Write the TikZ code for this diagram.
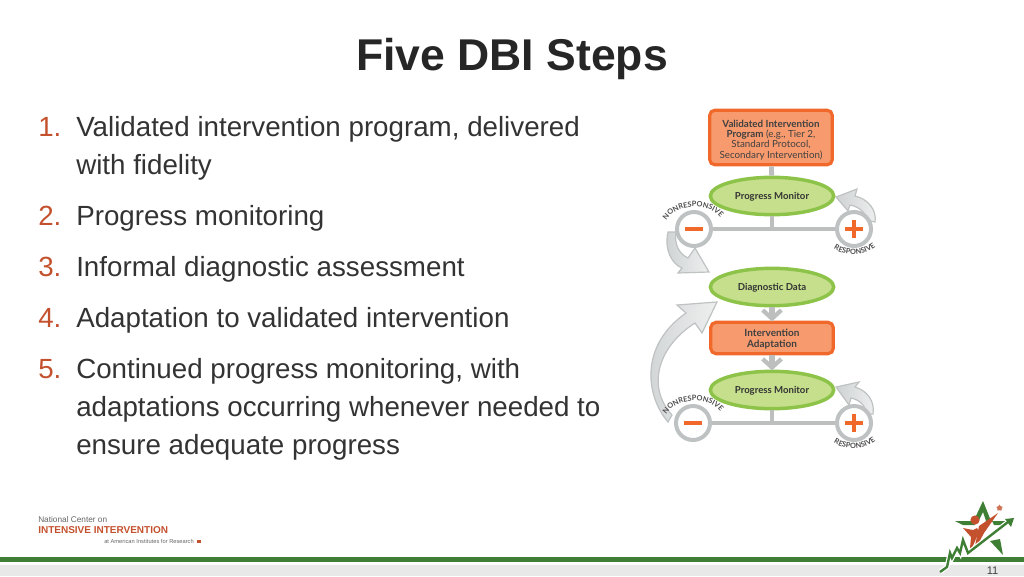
\documentclass[tikz,border=0pt]{standalone}
\usepackage{fontspec}
\setmainfont{Liberation Sans}
\newfontfamily\flowfont{Lato}
\usetikzlibrary{shapes.geometric,decorations.text}
\definecolor{numred}{HTML}{C4512D}
\definecolor{bodygray}{HTML}{333333}
\definecolor{boxfill}{HTML}{F79B6E}
\definecolor{boxline}{HTML}{F0692A}
\definecolor{ovalfill}{HTML}{C6DF8C}
\definecolor{ovalline}{HTML}{8CC348}
\definecolor{linkgray}{HTML}{BDBFBF}
\definecolor{curvefill}{HTML}{EEF0F0}
\definecolor{curvedark}{HTML}{CFD2D2}
\definecolor{curveline}{HTML}{BFC2C2}
\definecolor{barcolor}{HTML}{3F7F35}
\definecolor{footgray}{HTML}{E8E8E8}
\tikzset{
  listnum/.style={anchor=base west,text=numred,font=\fontsize{20.8}{25}\selectfont,inner sep=0pt},
  listtext/.style={anchor=base west,text=bodygray,font=\fontsize{20.8}{25}\selectfont,inner sep=0pt},
  orangebox/.style={draw=boxline,fill=boxfill,line width=2.4pt,rounded corners=4pt,minimum width=92pt,align=center,text=black!75,inner sep=0pt,font=\flowfont\fontsize{7.35}{7.8}\selectfont},
  greenoval/.style={ellipse,draw=ovalline,fill=ovalfill,line width=2.6pt,minimum width=92.5pt,minimum height=28pt,inner sep=0pt,text height=7pt,text depth=1.5pt,text=black!80,font=\flowfont\bfseries\fontsize{7.2}{8}\selectfont},
  signdisc/.style={circle,draw=curveline,fill=white,line width=3pt,minimum size=25.5pt,inner sep=0pt},
  linkline/.style={draw=linkgray,line width=3.6pt},
  blockarrow/.style={draw=curveline,left color=curvedark,right color=curvefill,line width=0.9pt,line join=miter},
  arctext/.style={decorate,decoration={text along path,text align=center,text color=black!70,
    text={|\flowfont\bfseries\fontsize{5.5}{6}\selectfont|#1}}}
}
\begin{document}
\begin{tikzpicture}[x=0.75pt,y=-0.75pt]
\useasboundingbox (0,0) rectangle (1024,576);
% title
\node[font=\bfseries\fontsize{33.4}{36}\selectfont,text=black!85,anchor=base] (title) at (512,70) {Five DBI Steps};

% list
\foreach \nm/\y in {1/136,2/225,3/276,4/327,5/378}
  \node[listnum] (num\nm) at (38,\y) {\nm.};
\foreach \ln/\y/\txt in {a/136/{Validated intervention program, delivered},
    b/174/{with fidelity},
    c/225/{Progress monitoring},
    d/276/{Informal diagnostic assessment},
    e/327/{Adaptation to validated intervention},
    f/378/{Continued progress monitoring, with},
    g/416/{adaptations occurring whenever needed to},
    h/454/{ensure adequate progress}}
  \node[listtext] (line\ln) at (76,\y) {\txt};

% block arrows go under the boxes
\draw[blockarrow] (875,222) .. controls (877,210) and (868,199) .. (855,196) -- (857,189) -- (836,197)
  -- (848,211) -- (850,205) .. controls (860,207) and (866,213) .. (866,220) -- cycle;
\draw[blockarrow] (668,232) .. controls (664,250) and (672,264) .. (682,268) -- (678,273) -- (709,272)
  -- (695,248) -- (688,258) .. controls (679,254) and (674,244) .. (676,232) -- cycle;
\draw[blockarrow] (668,422) .. controls (645,395) and (640,345) .. (686,313) -- (677,305) -- (717,302)
  -- (702,333) -- (695,323) .. controls (660,345) and (645,385) .. (672,415) -- cycle;
\draw[blockarrow] (873,414) .. controls (875,402) and (868,391) .. (855,387) -- (859,382) -- (836,387)
  -- (849,405) -- (851,398) .. controls (860,400) and (866,406) .. (866,414) -- cycle;

% nodes
\node[signdisc] (minus1) at (694,229) {};
\node[signdisc] (plus1) at (854,229) {};
\node[signdisc] (minus2) at (693,423) {};
\node[signdisc] (plus2) at (854,423) {};
\node[orangebox,minimum height=41pt] (program) at (771,137.5) {\rule{0pt}{9pt}{\bfseries Validated Intervention}\\{\bfseries Program} (e.g., Tier 2,\\Standard Protocol,\\Secondary Intervention)};
\node[greenoval] (monitor1) at (772,196) {Progress Monitor};
\node[greenoval] (diagnostic) at (772,287) {Diagnostic Data};
\node[orangebox,minimum height=23.5pt,font=\flowfont\bfseries\fontsize{7.5}{7.8}\selectfont] (adapt) at (772,338) {\rule{0pt}{7pt}Intervention\\Adaptation};
\node[greenoval] (monitor2) at (772,390) {Progress Monitor};
\coordinate (fork1) at (772,229);
\coordinate (fork2) at (772,423);

% connectors
\draw[linkline] (program) -- (monitor1);
\draw[linkline] (monitor1) -- (fork1);
\draw[linkline] (minus1) -- (plus1);
\draw[linkline] (monitor2) -- (fork2);
\draw[linkline] (minus2) -- (plus2);

% small arrows
\foreach \from/\to in {diagnostic/adapt,adapt/monitor2} {
  \draw[linkgray,line width=5pt] (\from.south) -- ([yshift=3pt]\to.north);
  \draw[linkgray,line width=3.2pt] ([xshift=-7pt,yshift=8pt]\to.north) -- ([yshift=1.6pt]\to.north) -- ([xshift=7pt,yshift=8pt]\to.north);
}

% signs
\foreach \who in {minus1,minus2} {
  \draw[boxline,line width=3.4pt] ([xshift=-7pt]\who.center) -- ([xshift=7pt]\who.center);
}
\foreach \who in {plus1,plus2} {
  \draw[boxline,line width=3.4pt] ([xshift=-7pt]\who.center) -- ([xshift=7pt]\who.center);
  \draw[boxline,line width=3.4pt] ([yshift=-7pt]\who.center) -- ([yshift=7pt]\who.center);
}

% curved words
\path[arctext=NONRESPONSIVE] (663,227) .. controls (671,201) and (715,200) .. (724,224);
\path[arctext=RESPONSIVE] (829,245) .. controls (842,258) and (866,258) .. (880,243);
\path[arctext=NONRESPONSIVE] (663,421) .. controls (671,395) and (715,394) .. (724,418);
\path[arctext=RESPONSIVE] (829,439) .. controls (842,452) and (866,452) .. (880,437);

% footer
\fill[footgray] (0,565) rectangle (1024,576);
\fill[barcolor] (0,557) rectangle (1024,562);

% left logo
\node[anchor=base west,inner sep=0pt,text=black!60,font=\fontsize{6.2}{7}\selectfont] (ncname) at (38,522) {National Center on};
\node[anchor=base west,inner sep=0pt,text=numred,font=\bfseries\fontsize{7.5}{8}\selectfont] (ncbig) at (38,533) {INTENSIVE INTERVENTION};
\node[anchor=base west,inner sep=0pt,text=black!60,font=\fontsize{4.3}{5}\selectfont] (ncair) at (104,543) {at American Institutes for Research};
\fill[numred] (197,539.5) rectangle (201,543);

% right logo
\fill[barcolor] (983,501) -- (991,521) -- (986,521) -- (983,512) -- (979,520) -- (975,518) -- cycle;
\fill[barcolor] (955,521) -- (971,521) -- (975,525) -- (963,525) -- cycle;
\fill[barcolor] (992,521) -- (1008,521) -- (1003,525) -- (994,525) -- cycle;
\fill[barcolor] (990,541) -- (1003,555) -- (1000,539) -- cycle;
\fill[numred] (975,520) circle[radius=4.6];
\fill[numred] (963,528) -- (973,530) -- (977,528) -- (979,532) -- (972,548) -- (970,548) -- (971,537) -- cycle;
\fill[numred] (998,513) -- (984,533) -- (977,546) -- (975,546) -- (979,526) -- cycle;
\node[star,star points=5,fill=numred!80,inner sep=0pt,minimum size=5pt] (tinystar) at (999.5,508) {};
\draw[white,line width=3.6pt] (940,572) -- (947,567) -- (950,553) -- (952,558) -- (957,548) -- (960,553) -- (963,540) -- (968,553) -- (1008,522);
\draw[barcolor,line width=1.8pt] (940,572) -- (947,567) -- (950,553) -- (952,558) -- (957,548) -- (960,553) -- (963,540) -- (968,553) -- (1008,522);
\fill[barcolor] (1014,518) -- (1005,519) -- (1011,527) -- cycle;
\node[inner sep=0pt,text=black!75,font=\fontsize{8.3}{9}\selectfont] (pagenum) at (992.5,570.5) {11};
\end{tikzpicture}
\end{document}
